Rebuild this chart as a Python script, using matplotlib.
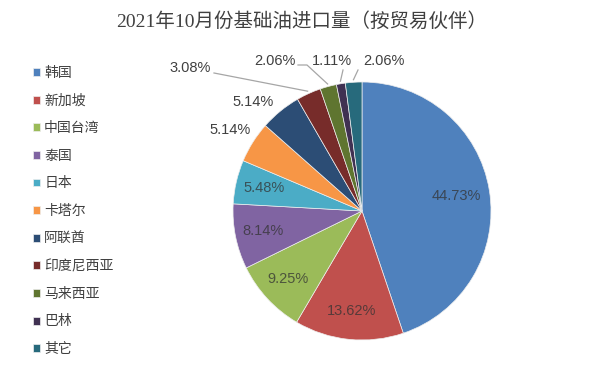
import numpy as np
import matplotlib
matplotlib.use("Agg")
import matplotlib.pyplot as plt

# --- data ---
partners = ["韩国", "新加坡", "中国台湾", "泰国", "日本", "卡塔尔", "阿联酋",
            "印度尼西亚", "马来西亚", "巴林", "其它"]
shares = [44.73, 13.62, 9.25, 8.14, 5.48, 5.14, 5.14, 3.08, 2.06, 1.11, 2.06]
colors = ["#4F81BD", "#C0504D", "#9BBB59", "#8064A2", "#4BACC6", "#F79646",
          "#2C4D75", "#772C2A", "#5F7530", "#403152", "#276A7C"]
title = "2021年10月份基础油进口量（按贸易伙伴）"

# --- layout (pixel space, origin top-left) ---
W, H = 616, 379
CX, CY, R = 362, 211, 129
# outer labels: index -> (text x, text y, ha, leader start x, leader start y)
outer = {
    5: (230, 130, "center", None, None),
    6: (253, 102, "center", None, None),
    7: (190, 68, "center", 214, 73),
    8: (275, 61, "center", 298, 65),
    9: (332, 61, "center", 343, 70),
    10: (384, 61, "center", 358, 70),
}
inner_r = {0: 0.74}

FONT = ["Liberation Sans", "Noto Sans CJK SC"]
CJK = ["Noto Sans CJK SC", "DejaVu Sans"]


def py(y):
    return H - y


fig = plt.figure(figsize=(W / 100, H / 100), dpi=100)
ax = fig.add_axes([0, 0, 1, 1])

wedges, _ = ax.pie(shares, colors=colors, startangle=90, counterclock=False,
                   center=(CX, py(CY)), radius=R, frame=True,
                   wedgeprops=dict(edgecolor="#eeeeee", linewidth=0.5))
ax.set_xlim(0, W)
ax.set_ylim(0, H)
ax.set_aspect("equal")
ax.axis("off")

for i, w in enumerate(wedges):
    mid = np.deg2rad((w.theta1 + w.theta2) / 2)
    lab = f"{shares[i]:.2f}%"
    if i in outer:
        tx, ty, ha, lx, ly = outer[i]
        ax.text(tx, py(ty), lab, ha=ha, va="center", fontsize=10.5,
                color="#404040", family=FONT)
        if lx is not None:
            ex = CX + np.cos(mid) * R * 1.02
            ey = py(CY) + np.sin(mid) * R * 1.02
            if i == 8:
                xs = [lx, lx + 9, ex]
                ys = [py(ly), py(ly), ey]
            else:
                xs = [lx, ex]
                ys = [py(ly), ey]
            ax.plot(xs, ys, color="#a6a6a6", linewidth=0.9)
    else:
        rr = inner_r.get(i, 0.78) * R
        ax.text(CX + np.cos(mid) * rr, py(CY) + np.sin(mid) * rr, lab,
                ha="center", va="center", fontsize=10.5, color="#333333",
                alpha=0.75, family=FONT)

fig.text(302 / W, 1 - 22 / H, title, ha="center", va="center", fontsize=14,
         color="#404040", fontweight="medium",
         family=["Liberation Serif", "Noto Sans CJK SC"])

leg = ax.legend(wedges, partners, loc="upper left",
                bbox_to_anchor=(33 / W, 1 - 66 / H), bbox_transform=fig.transFigure,
                frameon=False, prop={"family": CJK, "size": 10},
                handlelength=0.5, handleheight=0.5, handletextpad=0.3,
                labelspacing=0.98, borderpad=0, borderaxespad=0)
for t in leg.get_texts():
    t.set_color("#404040")

fig.savefig("out.png", dpi=100, facecolor="white")
